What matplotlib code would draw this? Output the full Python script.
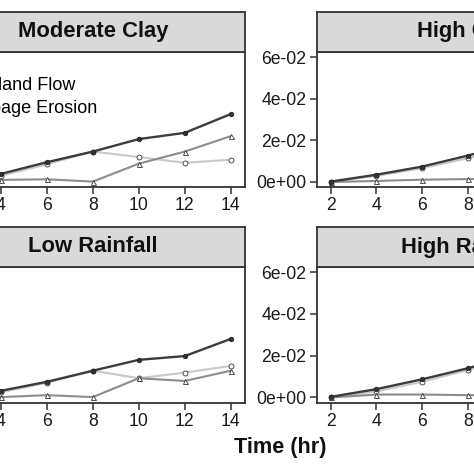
import matplotlib
matplotlib.use("Agg")
import matplotlib.pyplot as plt
from matplotlib.lines import Line2D

plt.rcParams['font.family'] = ['Liberation Sans', 'DejaVu Sans']

time_hr = [2, 4, 6, 8, 10, 12, 14]
panels = ["Moderate Clay", "High Clay", "Low Rainfall", "High Rainfall"]

total = {
    "Moderate Clay": [0.0005, 0.0039, 0.0095, 0.0146, 0.0206, 0.0236, 0.0326],
    "High Clay":     [0.0002, 0.0035, 0.0074, 0.0127, 0.0185, 0.0240, 0.0300],
    "Low Rainfall":  [0.0005, 0.0032, 0.0075, 0.0128, 0.0180, 0.0198, 0.0280],
    "High Rainfall": [0.0003, 0.0040, 0.0087, 0.0140, 0.0200, 0.0260, 0.0320],
}
overland = {
    "Moderate Clay": [0.0004, 0.0030, 0.0085, 0.0146, 0.0120, 0.0092, 0.0107],
    "High Clay":     [0.0001, 0.0030, 0.0066, 0.0114, 0.0165, 0.0215, 0.0270],
    "Low Rainfall":  [0.0004, 0.0025, 0.0070, 0.0128, 0.0092, 0.0119, 0.0151],
    "High Rainfall": [0.0002, 0.0029, 0.0075, 0.0132, 0.0190, 0.0245, 0.0300],
}
seepage = {
    "Moderate Clay": [0.0001, 0.0010, 0.0013, 0.0002, 0.0088, 0.0146, 0.0220],
    "High Clay":     [0.0000, 0.0005, 0.0011, 0.0014, 0.0018, 0.0022, 0.0025],
    "Low Rainfall":  [0.0001, 0.0002, 0.0011, 0.0002, 0.0092, 0.0079, 0.0128],
    "High Rainfall": [0.0000, 0.0014, 0.0014, 0.0011, 0.0012, 0.0013, 0.0014],
}
yticks = [0, 0.02, 0.04, 0.06]
ytick_labels = ["0e+00", "2e-02", "4e-02", "6e-02"]
xticks = [2, 4, 6, 8, 10, 12, 14]
legend_labels = ["Overland Flow", "Seepage Erosion"]

W = H = 474
fig = plt.figure(figsize=(4.74, 4.74), dpi=100)

def rect(x0, y0, x1, y1):
    return [x0 / W, 1 - y1 / H, (x1 - x0) / W, (y1 - y0) / H]

cols = [(-58.8, 244.5), (317.0, 619.0)]
rows = [((12, 52), (52, 187)), ((227, 267), (267, 402.5))]

C_TOT, C_OV, C_SE = "#3c3c3c", "#c9c9c9", "#8c8c8c"
axes = {}
for i, name in enumerate(panels):
    r, c = divmod(i, 2)
    (sy0, sy1), (py0, py1) = rows[r]
    x0, x1 = cols[c]
    ax = fig.add_axes(rect(x0, py0, x1, py1))
    sax = fig.add_axes(rect(x0, sy0, x1, sy1))
    sax.set_facecolor("#d9d9d9")
    sax.set_xticks([]); sax.set_yticks([])
    for s in sax.spines.values():
        s.set_color("#333333"); s.set_linewidth(1.3)
    sax.text(0.5, 0.5, name, transform=sax.transAxes, ha="center", va="center",
             fontsize=15.8, fontweight="bold", color="#111111")

    ax.plot(time_hr, overland[name], color=C_OV, lw=1.5, marker="o", ms=3.6,
            mfc="white", mec="#333333", mew=0.6, zorder=2)
    ax.plot(time_hr, seepage[name], color=C_SE, lw=1.5, marker="^", ms=3.6,
            mfc="white", mec="#333333", mew=0.6, zorder=3)
    ax.plot(time_hr, total[name], color=C_TOT, lw=1.7, marker="o", ms=3.2,
            mfc="#333333", mec="#222222", mew=0.6, zorder=4)
    ax.set_xlim(1.4, 14.6)
    ax.set_ylim(-0.0024, 0.0624)
    ax.set_xticks(xticks)
    ax.set_xticklabels([str(t) for t in xticks])
    ax.set_yticks(yticks)
    ax.set_yticklabels(ytick_labels)
    ax.tick_params(axis="both", length=5, width=1.1, color="#333333",
                   labelsize=12.7, labelcolor="#1a1a1a", pad=2.5)
    for s in ax.spines.values():
        s.set_color("#333333"); s.set_linewidth(1.3)
    axes[name] = ax

handles = [
    Line2D([], [], color=C_OV, lw=1.5, marker="o", ms=3.6, mfc="white", mec="#333333", mew=0.6),
    Line2D([], [], color=C_SE, lw=1.5, marker="^", ms=3.6, mfc="white", mec="#333333", mew=0.6),
]
fs = 13
fpx = fs * 100 / 72
hl, htp = 2.0, 0.8
lx = -41 - (hl + htp) * fpx
axes["Moderate Clay"].legend(handles, legend_labels, loc="upper left",
                             bbox_to_anchor=(lx / W, 1 - 77 / H),
                             bbox_transform=fig.transFigure, frameon=False,
                             fontsize=fs, borderpad=0, borderaxespad=0,
                             handlelength=hl, handletextpad=htp, labelspacing=0.32)

fig.text(280 / W, 1 - 447 / H, "Time (hr)", ha="center", va="center",
         fontsize=15.6, fontweight="bold", color="#111111")

fig.savefig("out.png", dpi=100)
